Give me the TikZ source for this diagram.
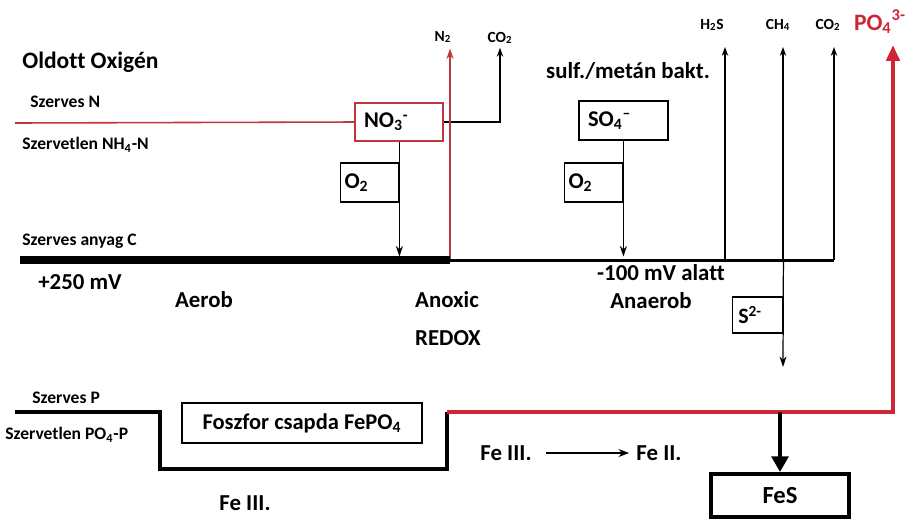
\documentclass[tikz,border=0pt]{standalone}
\usepackage{fontspec}
\setmainfont{Carlito}[Ligatures=NoCommon]
\usepackage{xcolor}
\usetikzlibrary{arrows.meta,positioning,calc}

\definecolor{redoxred}{RGB}{206,38,52}
\definecolor{nitred}{RGB}{190,55,62}

\begin{document}
\begin{tikzpicture}[
    x=0.02cm, y=-0.02cm,
    title/.style={font=\fontsize{13.4}{15}\selectfont\bfseries, inner sep=0pt},
    side/.style={font=\fontsize{10}{12}\selectfont\bfseries, inner sep=0pt},
    zone/.style={font=\fontsize{13}{15}\selectfont\bfseries, inner sep=0pt},
    gas/.style={font=\fontsize{8.8}{10}\selectfont\bfseries, inner sep=0pt},
    chembox/.style={rectangle, draw=black, line width=1.1pt, font=\fontsize{12.8}{14}\selectfont\bfseries, align=left, inner xsep=5pt, inner ysep=0pt},
    oxbox/.style={rectangle, draw=black, line width=0.6pt, font=\fontsize{12.8}{14}\selectfont\bfseries, align=left, inner xsep=2.5pt, inner ysep=0pt},
    thin arrow/.style={-{Stealth[length=6pt, width=4pt]}, line width=0.7pt},
    gas arrow/.style={-{Stealth[length=5pt, width=3.6pt]}, line width=0.8pt},
    big arrow/.style={-{Triangle[length=9pt, width=9.5pt]}, line width=2.3pt},
]

\useasboundingbox (0,0) rectangle (909,522);

% Headings and side labels
\node[title, anchor=west] (oxi) at (22,62) {Oldott Oxigén};
\node[side, anchor=west] (szN) at (30,102) {Szerves N};
\node[side, anchor=west] (szlN) at (22,145) {Szervetlen NH\textsubscript{4}-N};
\node[side, anchor=west] (szC) at (22,241) {Szerves anyag C};
\node[side, anchor=west] (szP) at (32,398) {Szerves P};
\node[side, anchor=west] (szlP) at (5,435) {Szervetlen PO\textsubscript{4}-P};

% Zones along the redox line
\node[zone] (plus) at (80,282) {+250 mV};
\node[zone] (aerob) at (204,300) {Aerob};
\node[zone] (anoxic) at (447,300) {Anoxic};
\node[zone] (redox) at (448,338) {REDOX};
\node[zone] (minus) at (661,273) {-100 mV alatt};
\node[zone] (anaerob) at (651,301) {Anaerob};
\node[zone] (bakt) at (628,71) {sulf./metán bakt.};

% Chemical boxes
\node[chembox, draw=nitred, text width=1.4cm, minimum height=0.76cm] (no3) at (399,122) {NO\textsubscript{3}\textsuperscript{-}};
\node[oxbox, text width=1.0cm, minimum height=0.78cm] (o2a) at (369.5,182.5) {O\textsubscript{2}};
\node[chembox, text width=1.42cm, minimum height=0.78cm] (so4) at (623.5,120.5) {SO\textsubscript{4}\textsuperscript{--}};
\node[oxbox, text width=1.0cm, minimum height=0.78cm] (o2b) at (593.5,182.5) {O\textsubscript{2}};
\node[oxbox, text width=0.84cm, minimum height=0.72cm, inner xsep=2.5pt, font=\fontsize{12.5}{14}\selectfont\bfseries] (s2) at (757.5,315) {\hspace{1pt}S\textsuperscript{2-}};
\node[chembox, align=center, minimum width=4.8cm, minimum height=0.8cm] (fosz) at (302,423) {Foszfor csapda FePO\textsubscript{4}};
\node[chembox, align=center, line width=2.5pt, minimum width=2.75cm, minimum height=0.85cm, font=\fontsize{14}{16}\selectfont\bfseries] (fes) at (780,495.5) {FeS};

% Gas labels at the top
\node[gas] (n2) at (443,37) {N\textsubscript{2}};
\node[gas] (co2a) at (500,38) {CO\textsubscript{2}};
\node[gas] (h2s) at (712,25) {H\textsubscript{2}S};
\node[gas] (ch4) at (778,25) {CH\textsubscript{4}};
\node[gas] (co2b) at (828,25) {CO\textsubscript{2}};
\node[title, text=redoxred] (po4) at (880,22) {PO\textsubscript{4}\textsuperscript{3-}};

% Iron labels
\node[zone] (fe3a) at (245,503) {Fe III.};
\node[zone] (fe3b) at (506,453) {Fe III.};
\node[zone] (fe2) at (659,453) {Fe II.};

% Points on the lines
\coordinate (nstart) at (15,123);
\coordinate (cstart) at (20,260);
\coordinate (cmid) at (450,260);
\coordinate (cend) at (834,260);
\coordinate (pstart) at (15,412);
\coordinate (pjoin) at (447,412);
\coordinate (pcorner) at (893,412);

% Nitrogen line
\draw[nitred, line width=0.9pt] (nstart) -- (no3.west);
\draw[line width=1.1pt, gas arrow] (no3.east) -- (no3.east -| co2a) -- ([yshift=-2pt]co2a.south);
\draw[nitred, line width=1.1pt, -{Stealth[length=6pt, width=4pt]}] (cmid) -- ([yshift=-3pt]cmid |- n2.south);
\draw[thin arrow] (no3.south -| o2a.east) -- ([yshift=2pt]o2a.east |- cmid);

% Redox line (organic C)
\draw[line width=4pt] (cstart) -- (cmid);
\draw[line width=1.7pt] (cmid) -- (cend);
\draw[gas arrow] (725,260) -- (725,47);
\draw[gas arrow] (783,260) -- (783,47);
\draw[gas arrow] (cend) -- (834,47);
\draw[thin arrow] (so4.south -| o2b.east) -- ([yshift=2pt]o2b.east |- cmid);
\draw[thin arrow] (s2.north east |- cmid) -- (783,367);

% Phosphorus line
\draw[line width=2.3pt, line join=miter] (pstart) -- (160,412) -- (160,469) -- (447,469) -- (pjoin);
\draw[redoxred, line width=2.6pt, -{Triangle[length=9pt, width=7.5pt]}] (pjoin) -- (pcorner) -- (893,45);
\draw[big arrow] (pcorner -| fes) -- (fes.north);
\draw[-{Stealth[length=6pt, width=4.5pt]}, line width=1.3pt] ([xshift=8pt]fe3b.east) -- ([xshift=-4pt]fe2.west);

\end{tikzpicture}
\end{document}
